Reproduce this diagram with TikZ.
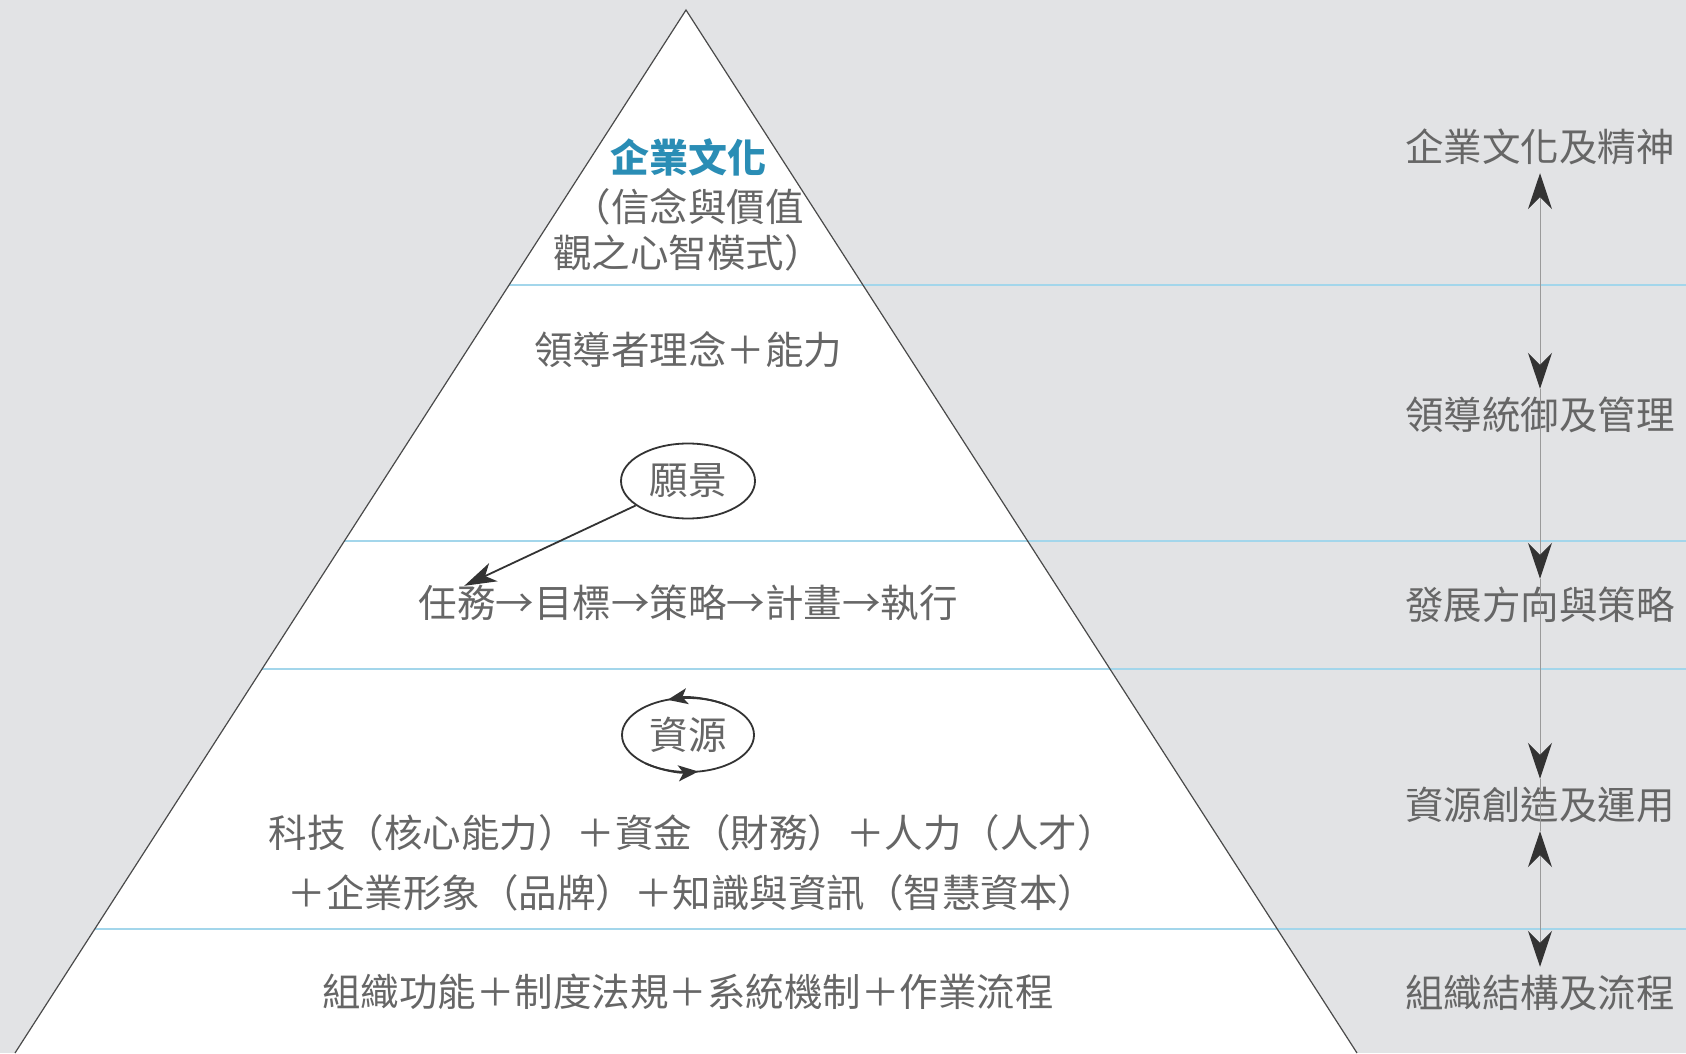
\documentclass[tikz,border=0pt]{standalone}
\usepackage{fontspec}
\newfontfamily\cjk{Noto Sans CJK TC}
\usetikzlibrary{arrows.meta,shapes.geometric,calc}
\definecolor{bg}{HTML}{E2E3E5}
\definecolor{txt}{HTML}{666666}
\definecolor{ttl}{HTML}{2A8DB5}
\definecolor{edge}{HTML}{4A4A4A}
\definecolor{sep}{HTML}{A3D6EB}
\definecolor{ink}{HTML}{333333}
\definecolor{spine}{HTML}{9A9A9A}
\tikzset{
  lbl/.style={font=\cjk\fontsize{38.5}{46}\selectfont, text=txt, inner sep=0pt},
  side/.style={lbl, minimum height=52pt},
  sepline/.style={draw=sep, line width=1.5pt},
  ring/.style={draw=ink, line width=1.8pt},
  link/.style={draw=spine, line width=1pt, >={Stealth[length=36pt,width=24pt,inset=12pt,color=ink]}},
  varrow/.style={draw=ink, line width=1.8pt, -{Stealth[length=32pt,width=20pt,inset=9pt]}},
  ringtip/.style={ring, -{Stealth[length=20pt,width=16pt,inset=5pt]}}
}
\begin{document}
\begin{tikzpicture}[x=1pt,y=1pt]
\fill[bg] (0,0) rectangle (1686,1053);
\useasboundingbox (0,0) rectangle (1686,1053);
\coordinate (apex) at (686,1043);
\coordinate (bl) at (15,0);
\coordinate (br) at (1357,0);
\coordinate (right) at (1686,0);
\fill[white] (bl) -- (apex) -- (br) -- cycle;
% separators
\coordinate (s1l) at ($(apex)!0.2637!(bl)$);
\coordinate (s2l) at ($(apex)!0.5091!(bl)$);
\coordinate (s3l) at ($(apex)!0.6318!(bl)$);
\coordinate (s4l) at ($(apex)!0.8811!(bl)$);
\draw[sepline] (s1l) -- (s1l -| right);
\draw[sepline] (s2l) -- (s2l -| right);
\draw[sepline] (s3l) -- (s3l -| right);
\draw[sepline] (s4l) -- (s4l -| right);
\draw[draw=edge, line width=1.2pt] (bl) -- (apex) -- (br);
% pyramid texts
\node[lbl, text=ttl, font=\cjk\bfseries\fontsize{39}{46}\selectfont] (culture) at (688,896) {企業文化};
\node[lbl, align=center] (belief) at (688,823) {（信念與價值\\觀之心智模式）};
\node[lbl] (leader) at (688,703) {領導者理念＋能力};
\node[lbl, ellipse, draw=ink, line width=1.8pt, minimum width=134pt, minimum height=75pt] (vision) at (688,572) {願景};
\node[lbl] (chain) at (688,450) {任務→目標→策略→計畫→執行};
\node[lbl, ellipse, draw=ink, line width=1.8pt, minimum width=132pt, minimum height=74pt] (res) at (688,318) {資源};
\node[lbl, align=center, font=\cjk\fontsize{38.5}{60}\selectfont] (resline) at (692,190) {科技（核心能力）＋資金（財務）＋人力（人才）\\＋企業形象（品牌）＋知識與資訊（智慧資本）};
\node[lbl] (org) at (688,61) {組織功能＋制度法規＋系統機制＋作業流程};
% pyramid connectors
\draw[varrow] (vision) -- ($(chain.north west)+(46,-1)$);
\draw[ringtip] ($(res.center)+(55:66 and 37)$) arc[start angle=55, end angle=108, x radius=66, y radius=37];
\draw[ringtip] ($(res.center)+(230:66 and 37)$) arc[start angle=230, end angle=279, x radius=66, y radius=37];
% side labels
\node[side] (l1) at (1540,906) {企業文化及精神};
\node[side] (l2) at (1540,638) {領導統御及管理};
\node[side] (l3) at (1540,448) {發展方向與策略};
\node[side] (l4) at (1540,248) {資源創造及運用};
\node[side] (l5) at (1540,60) {組織結構及流程};
\draw[link,<->] (l1.south) -- (l2.north);
\draw[link,->] (l2.north) -- (l3.north);
\draw[link,->] (l3.north) -- (l4.north);
\draw[link] (l4.north) -- (l4.south);
\draw[link,<->] (l4.south) -- (l5.north);
\end{tikzpicture}
\end{document}
